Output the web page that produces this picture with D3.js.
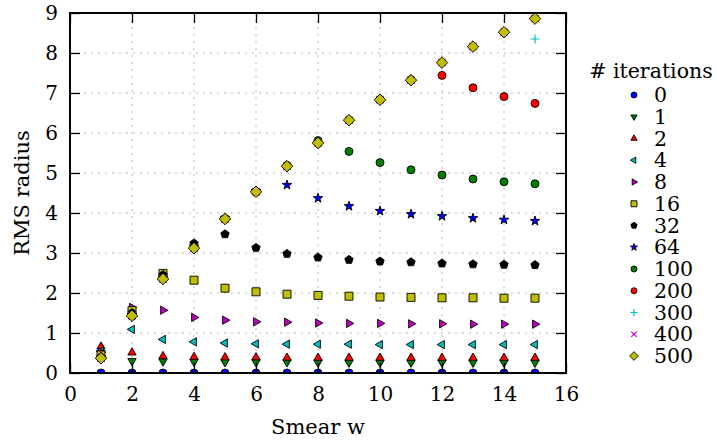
<!DOCTYPE html>
<html>
<head>
<meta charset="utf-8">
<script src="https://cdn.jsdelivr.net/npm/d3@7"></script>
<style>
  body { margin: 0; background: #fff; }
  text { font-family: "DejaVu Serif", serif; fill: #000; }
</style>
</head>
<body>
<div id="chart"></div>
<script>
// smear widths along x
const smear = [1, 2, 3, 4, 5, 6, 7, 8, 9, 10, 11, 12, 13, 14, 15];
const iterations = [0, 1, 2, 4, 8, 16, 32, 64, 100, 200, 300, 400, 500];
const xTicks = [0, 2, 4, 6, 8, 10, 12, 14, 16];
const yTicks = [0, 1, 2, 3, 4, 5, 6, 7, 8, 9];

// RMS radius per number of iterations
const rms0   = [0, 0, 0, 0, 0, 0, 0, 0, 0, 0, 0, 0, 0, 0, 0];
const rms1   = [0.50, 0.30, 0.29, 0.28, 0.27, 0.27, 0.27, 0.26, 0.26, 0.26, 0.26, 0.26, 0.26, 0.26, 0.26];
const rms2   = [0.66, 0.51, 0.42, 0.40, 0.39, 0.39, 0.38, 0.38, 0.38, 0.38, 0.38, 0.38, 0.38, 0.38, 0.38];
const rms4   = [0.55, 1.09, 0.84, 0.78, 0.75, 0.73, 0.72, 0.72, 0.72, 0.71, 0.71, 0.71, 0.71, 0.71, 0.71];
const rms8   = [0.52, 1.64, 1.57, 1.39, 1.32, 1.28, 1.27, 1.25, 1.24, 1.24, 1.23, 1.23, 1.22, 1.22, 1.22];
const rms16  = [0.45, 1.56, 2.49, 2.32, 2.12, 2.03, 1.97, 1.94, 1.92, 1.90, 1.89, 1.88, 1.88, 1.87, 1.87];
const rms32  = [0.40, 1.50, 2.45, 3.24, 3.47, 3.13, 2.98, 2.89, 2.83, 2.79, 2.77, 2.74, 2.72, 2.71, 2.70];
const rms64  = [0.38, 1.45, 2.38, 3.16, 3.87, 4.55, 4.70, 4.37, 4.17, 4.05, 3.97, 3.92, 3.87, 3.83, 3.80];
const rms100 = [0.37, 1.43, 2.36, 3.13, 3.86, 4.54, 5.19, 5.81, 5.54, 5.26, 5.08, 4.95, 4.85, 4.78, 4.73];
const rms200 = [0.37, 1.43, 2.35, 3.12, 3.85, 4.53, 5.17, 5.75, 6.32, 6.84, 7.33, 7.44, 7.13, 6.91, 6.74];
const rms300 = [0.37, 1.43, 2.35, 3.12, 3.85, 4.53, 5.17, 5.75, 6.32, 6.83, 7.32, 7.76, 8.16, 8.52, 8.35];
const rms400 = [0.37, 1.43, 2.35, 3.12, 3.85, 4.53, 5.17, 5.75, 6.32, 6.83, 7.32, 7.76, 8.16, 8.52, 8.86];
const rms500 = [0.37, 1.43, 2.35, 3.12, 3.85, 4.53, 5.17, 5.75, 6.32, 6.83, 7.32, 7.76, 8.16, 8.52, 8.86];

const allRms = [rms0, rms1, rms2, rms4, rms8, rms16, rms32, rms64, rms100, rms200, rms300, rms400, rms500];
const colors = ["#0000ff", "#008000", "#ff0000", "#00bfbf", "#bf00bf", "#bfbf00", "#000000",
                "#0000ff", "#008000", "#ff0000", "#00bfbf", "#bf00bf", "#bfbf00"];
const shapes = ["circle", "down", "up", "left", "right", "square", "pentagon",
                "star", "circle", "circle", "plus", "cross", "diamond"];

const margin = {top: 13, left: 70},
      width = 496, height = 360;

const svg = d3.select("#chart").append("svg")
    .attr("width", 717)
    .attr("height", 440);

const g = svg.append("g")
    .attr("transform", `translate(${margin.left},${margin.top})`);

const x = d3.scaleLinear().domain([0, 16]).range([0, width]);
const y = d3.scaleLinear().domain([0, 9]).range([height, 0]);

// marker path for a given shape and size r
function markerPath(shape, r) {
    const p = [];
    if (shape === "circle") {
        return `M${r},0A${r},${r} 0 1,1 ${-r},0A${r},${r} 0 1,1 ${r},0Z`;
    }
    if (shape === "square") return `M${-r},${-r}H${r}V${r}H${-r}Z`;
    if (shape === "diamond") { const d = r * 1.45; return `M0,${-d}L${d},0L0,${d}L${-d},0Z`; }
    if (shape === "plus") { const d = r * 1.15; return `M${-d},0H${d}M0,${-d}V${d}`; }
    if (shape === "cross") { const d = r * 0.9; return `M${-d},${-d}L${d},${d}M${-d},${d}L${d},${-d}`; }
    let rot, pts;
    if (shape === "up" || shape === "down" || shape === "left" || shape === "right") {
        const rr = r * 1.2;
        rot = {up: -90, down: 90, left: 180, right: 0}[shape];
        pts = [0, 120, 240].map(a => [rr * Math.cos((a + rot) * Math.PI / 180), rr * Math.sin((a + rot) * Math.PI / 180)]);
        return "M" + pts.map(q => q.join(",")).join("L") + "Z";
    }
    if (shape === "pentagon") {
        for (let i = 0; i < 5; i++) {
            const a = (-90 + i * 72) * Math.PI / 180;
            p.push([r * 1.1 * Math.cos(a), r * 1.1 * Math.sin(a)]);
        }
        return "M" + p.map(q => q.join(",")).join("L") + "Z";
    }
    if (shape === "star") {
        for (let i = 0; i < 10; i++) {
            const a = (-90 + i * 36) * Math.PI / 180;
            const rr = i % 2 ? r * 0.5 : r * 1.25;
            p.push([rr * Math.cos(a), rr * Math.sin(a)]);
        }
        return "M" + p.map(q => q.join(",")).join("L") + "Z";
    }
}

function styleMarker(sel, i) {
    const open = shapes[i] === "plus" || shapes[i] === "cross";
    sel.attr("fill", open ? "none" : colors[i])
        .attr("stroke", open ? colors[i] : "#000")
        .attr("stroke-width", open ? 1.2 : 0.9);
}

// grid
g.append("g").selectAll("line").data(xTicks.slice(1, -1)).join("line")
    .attr("x1", d => x(d)).attr("x2", d => x(d))
    .attr("y1", 0).attr("y2", height)
    .attr("stroke", "#b8b8b8").attr("stroke-dasharray", "2,5");
g.append("g").selectAll("line").data(yTicks.slice(1, -1)).join("line")
    .attr("x1", 0).attr("x2", width)
    .attr("y1", d => y(d)).attr("y2", d => y(d))
    .attr("stroke", "#b8b8b8").attr("stroke-dasharray", "2,5");

// points, clipped to the axes
svg.append("defs").append("clipPath").attr("id", "clip")
    .append("rect").attr("width", width).attr("height", height);

const plot = g.append("g").attr("clip-path", "url(#clip)");
allRms.forEach(function(vals, i) {
    plot.append("g").selectAll("path")
        .data(vals)
        .join("path")
        .attr("transform", (d, j) => `translate(${x(smear[j])},${y(d)})`)
        .attr("d", markerPath(shapes[i], 4))
        .call(styleMarker, i);
});

// axes with ticks inside on all sides
const tickLen = 10;
g.append("g").attr("transform", `translate(0,${height})`)
    .call(d3.axisBottom(x).tickValues(xTicks).tickSize(-tickLen).tickPadding(14));
g.append("g")
    .call(d3.axisTop(x).tickValues(xTicks).tickSize(-tickLen).tickFormat(""));
g.append("g")
    .call(d3.axisLeft(y).tickValues(yTicks).tickSize(-tickLen).tickPadding(12));
g.append("g").attr("transform", `translate(${width},0)`)
    .call(d3.axisRight(y).tickValues(yTicks).tickSize(-tickLen).tickFormat(""));

g.selectAll(".domain").remove();
g.selectAll(".tick line").attr("stroke", "#000").attr("stroke-width", 1.3);
g.selectAll(".tick text").style("font-family", "DejaVu Serif").style("font-size", "20px");

g.append("rect")
    .attr("width", width).attr("height", height)
    .attr("fill", "none").attr("stroke", "#000").attr("stroke-width", 2);

// axis labels
svg.append("text")
    .attr("x", 318).attr("y", 434)
    .attr("text-anchor", "middle")
    .style("font-size", "21px")
    .text("Smear w");

svg.append("text")
    .attr("transform", "rotate(-90)")
    .attr("x", -193).attr("y", 29)
    .attr("text-anchor", "middle")
    .style("font-size", "21px")
    .text("RMS radius");

// legend
const legend = svg.append("g");
legend.append("text")
    .attr("x", 651).attr("y", 78)
    .attr("text-anchor", "middle")
    .style("font-size", "20.5px")
    .text("# iterations");

iterations.forEach(function(it, i) {
    const ly = 95 + i * 21.75;
    legend.append("path")
        .attr("transform", `translate(634,${ly})`)
        .attr("d", markerPath(shapes[i], 3))
        .call(styleMarker, i);
    legend.append("text")
        .attr("x", 654).attr("y", ly + 7)
        .style("font-size", "20.5px")
        .text(it);
});
</script>
</body>
</html>
